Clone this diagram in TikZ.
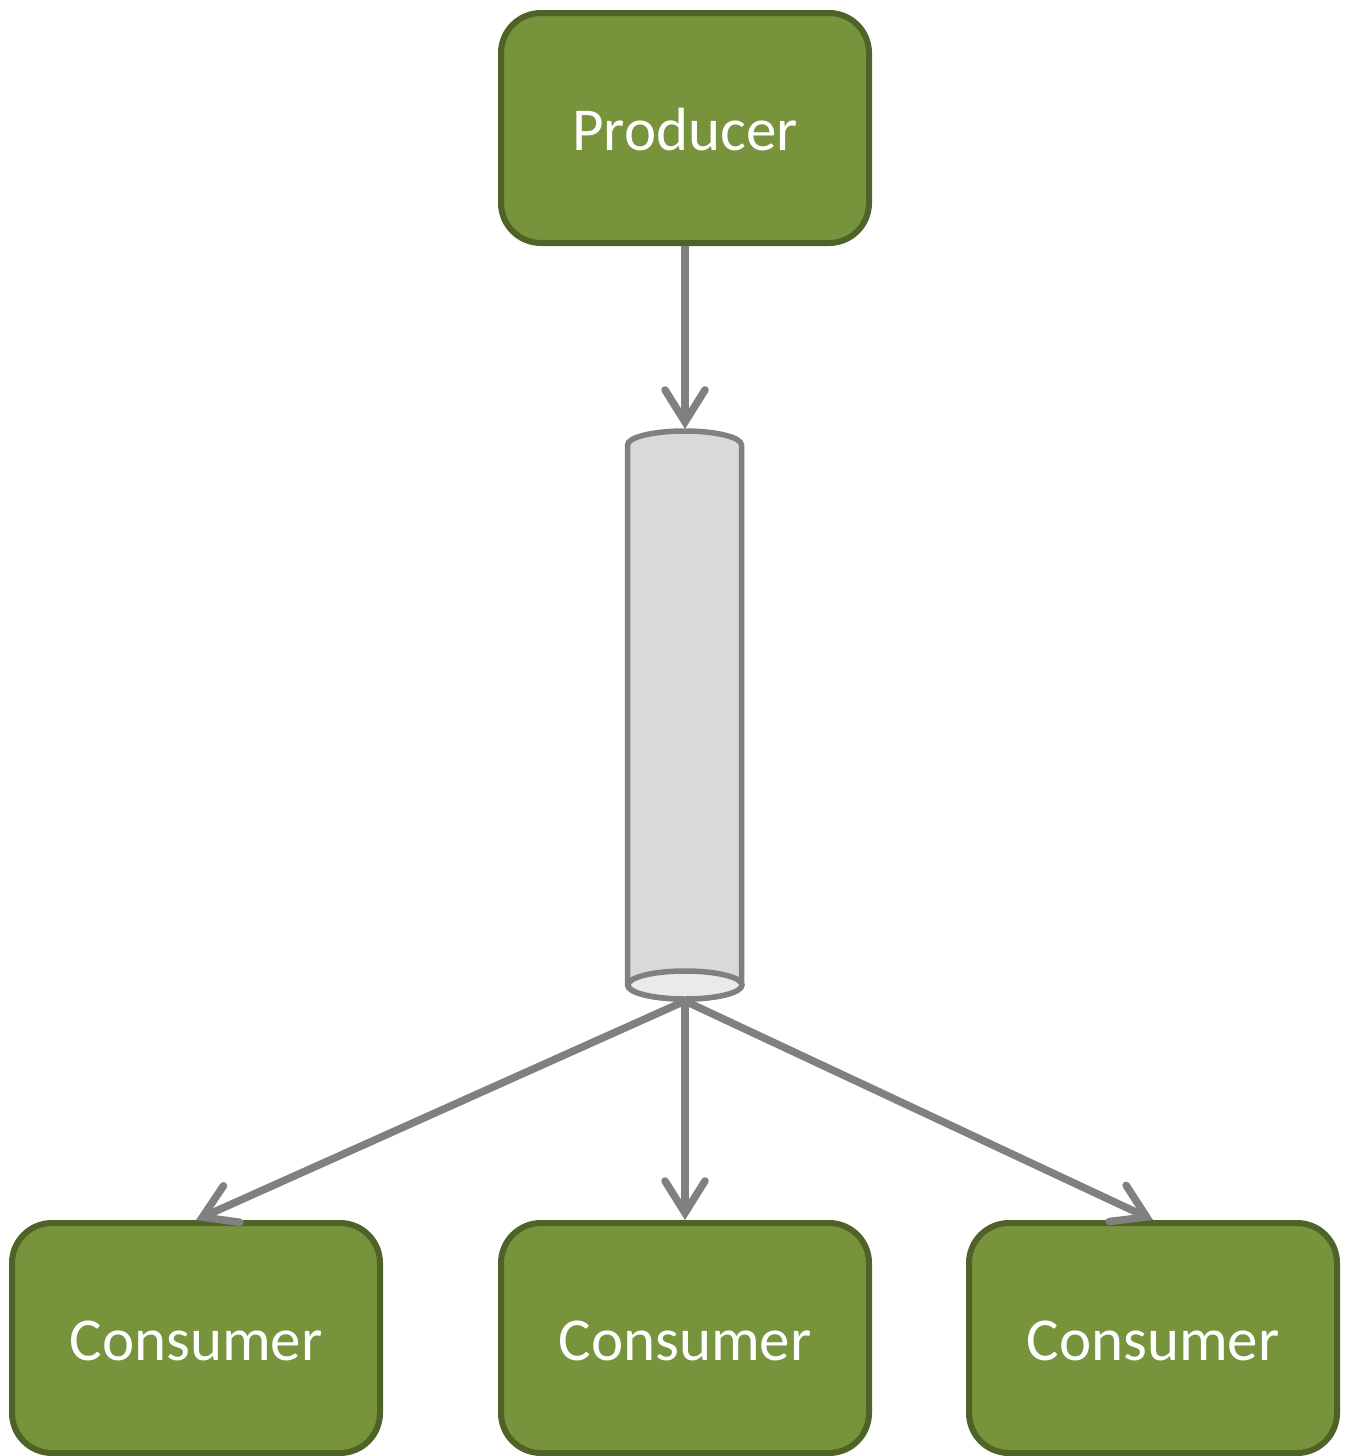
\documentclass[tikz,border=0pt]{standalone}
\usepackage{fontspec}
\setmainfont{Carlito}
\usetikzlibrary{arrows.meta}
\definecolor{boxfill}{HTML}{77933C}
\definecolor{boxline}{HTML}{4F6228}
\definecolor{flowgray}{HTML}{808080}
\definecolor{cylfill}{HTML}{D9D9D9}
\definecolor{cyltop}{HTML}{EAEAEA}
\newcommand{\boxtext}[1]{\raisebox{-22pt}[0pt][0pt]{#1}}
\tikzset{
  greenbox/.style={draw=boxline, fill=boxfill, line width=6pt, rounded corners=40pt,
    minimum width=368pt, minimum height=230pt, inner sep=0pt, text=white,
    font=\fontsize{61}{70}\selectfont},
  flow/.style={draw=flowgray, line width=7.5pt,
    -{Straight Barb[length=32pt,width=40pt,line cap=round]}},
  cyl/.style={draw=flowgray, line width=5.5pt}
}
\begin{document}
\begin{tikzpicture}[x=1pt,y=-1pt]
\useasboundingbox (0,0) rectangle (1352,1456);
% producer and consumers
\node[greenbox] (prod) at (685,128) {\boxtext{Producer}};
\node[greenbox] (c1) at (196,1338) {\boxtext{Consumer}};
\node[greenbox] (c2) at (685,1338) {\boxtext{Consumer}};
\node[greenbox] (c3) at (1153,1338) {\boxtext{Consumer}};
% queue cylinder
\path[cyl, fill=cylfill] (627.5,445) arc[start angle=180,end angle=0,x radius=57pt,y radius=14pt]
  -- (741.5,985) arc[start angle=0,end angle=-180,x radius=57pt,y radius=14pt] -- cycle;
\draw[cyl, fill=cyltop] (685,985) ellipse[x radius=57pt,y radius=14pt];
\coordinate (qtop) at (685,429);
\coordinate (qbot) at (685,1001);
% connectors
\draw[flow] (prod.south) -- (qtop);
\draw[flow] (qbot) -- (c1.north);
\draw[flow] (qbot) -- (c2.north);
\draw[flow] (qbot) -- (c3.north);
\end{tikzpicture}
\end{document}
